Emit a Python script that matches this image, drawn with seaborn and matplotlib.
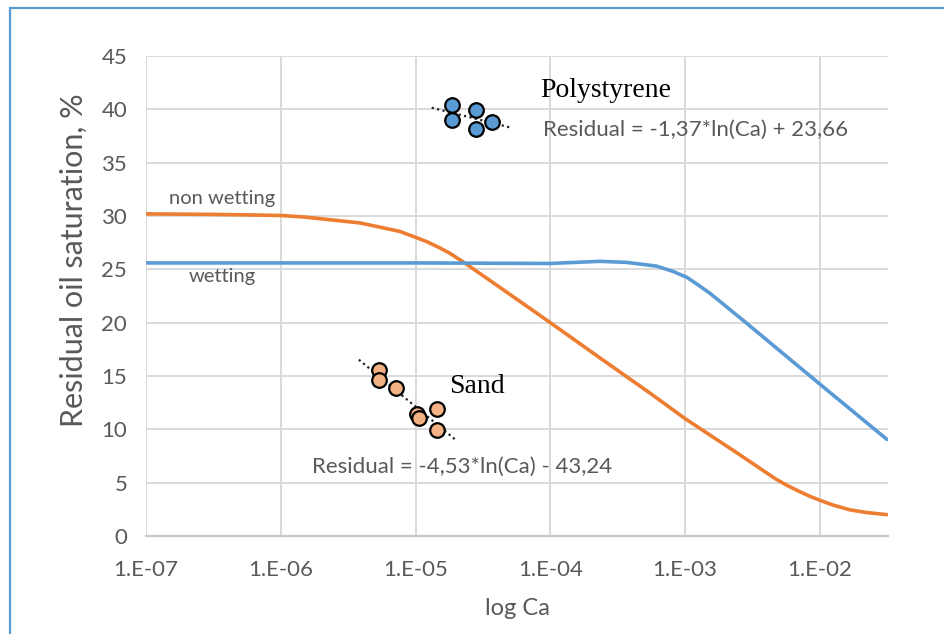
import numpy as np
import pandas as pd
import seaborn as sns
import matplotlib.pyplot as plt
from matplotlib.lines import Line2D
from matplotlib.ticker import FixedLocator, NullLocator

# curves (Ca, residual oil saturation %)
ca_nonwet = [1e-7, 3.14e-7, 5.92e-7, 1e-6, 1.51e-6, 2.32e-6, 3.87e-6, 7.66e-6, 1e-5,
             1.21e-5, 1.52e-5, 1.80e-5, 2.25e-5, 3.01e-5, 4.23e-5, 1e-4, 2.33e-4,
             5.48e-4, 1e-3, 2.42e-3, 4.63e-3, 5.69e-3, 7.11e-3, 8.5e-3, 1e-2,
             1.25e-2, 1.67e-2, 2.22e-2, 3.14e-2]
sor_nonwet = [30.2, 30.15, 30.1, 30.05, 29.9, 29.65, 29.35, 28.55, 28.0,
              27.6, 27.0, 26.5, 25.7, 24.6, 23.3, 20.0, 16.7,
              13.4, 11.0, 7.8, 5.4, 4.75, 4.15, 3.7, 3.35,
              2.9, 2.45, 2.2, 2.0]

ca_wet = [1e-7, 1e-6, 1e-5, 1e-4, 2.33e-4, 3.68e-4, 6.14e-4, 8.16e-4, 1.03e-3,
          1.245e-3, 1.53e-3, 2.86e-3, 5.05e-3, 1.03e-2, 3.14e-2]
sor_wet = [25.6, 25.6, 25.6, 25.55, 25.75, 25.65, 25.3, 24.8, 24.25,
           23.55, 22.75, 19.95, 17.35, 14.1, 9.06]

# measured points
ca_poly = [1.86e-5, 1.86e-5, 2.81e-5, 2.81e-5, 3.69e-5]
sor_poly = [40.4, 39.0, 39.9, 38.2, 38.8]

ca_sand = [5.36e-6, 5.36e-6, 7.16e-6, 1.02e-5, 1.06e-5, 1.44e-5, 1.44e-5]
sor_sand = [15.6, 14.6, 13.9, 11.4, 11.1, 11.9, 9.9]

xticks = [1e-7, 1e-6, 1e-5, 1e-4, 1e-3, 1e-2]
xtick_labels = ["1.E-07", "1.E-06", "1.E-05", "1.E-04", "1.E-03", "1.E-02"]
yticks = [0, 5, 10, 15, 20, 25, 30, 35, 40, 45]

BLUE = "#5b9bd5"
ORANGE = "#ed7d31"
TXT = "#595959"

sns.set_style("white")
plt.rcParams["font.family"] = ["Lato", "DejaVu Sans"]

curves = pd.concat([
    pd.DataFrame({"ca": ca_nonwet, "sor": sor_nonwet, "kind": "non wetting"}),
    pd.DataFrame({"ca": ca_wet, "sor": sor_wet, "kind": "wetting"}),
])

fig = plt.figure(figsize=(9.44, 6.34), dpi=100)
ax = fig.add_axes([146 / 944, 98 / 634, 742 / 944, 480 / 634])
ax.set_xscale("log")

sns.lineplot(data=curves, x="ca", y="sor", hue="kind",
             palette={"non wetting": ORANGE, "wetting": BLUE},
             linewidth=2.6, legend=False, ax=ax, zorder=3)

# log trend lines through the point sets, stretched a bit past the data
for ca, sor in [(ca_poly, sor_poly), (ca_sand, sor_sand)]:
    lx = np.log(ca)
    a, b = np.polyfit(lx, sor, 1)
    pad = 0.15 * np.log(10)
    xs = np.linspace(lx.min() - pad, lx.max() + pad, 20)
    ax.plot(np.exp(xs), a * xs + b, ls=(0, (1, 1.5)), color="#222222", lw=1.6, zorder=4)

sns.scatterplot(x=ca_poly, y=sor_poly, color=BLUE, s=110, edgecolor="black",
                linewidth=1.6, ax=ax, zorder=5)
sns.scatterplot(x=ca_sand, y=sor_sand, color="#f4b183", s=110, edgecolor="black",
                linewidth=1.6, ax=ax, zorder=5)

ax.set_xlim(1e-7, 3.2e-2)
ax.set_ylim(0, 45)
ax.xaxis.set_major_locator(FixedLocator(xticks))
ax.xaxis.set_minor_locator(NullLocator())
ax.set_xticklabels(xtick_labels)
ax.set_yticks(yticks)
ax.grid(True, color="#d9d9d9", linewidth=1.4)
ax.set_axisbelow(True)
for s in ["top", "right", "left"]:
    ax.spines[s].set_visible(False)
ax.spines["bottom"].set_color("#c8c8c8")
ax.spines["bottom"].set_linewidth(1.6)
ax.tick_params(length=0, labelsize=16, labelcolor=TXT)
ax.tick_params(axis="x", pad=17)
ax.tick_params(axis="y", pad=13.5)

ax.set_xlabel("log Ca", fontsize=17, color=TXT, labelpad=13)
ax.set_ylabel("Residual oil saturation, %", fontsize=22, color=TXT)
ax.yaxis.set_label_coords(-0.078, 0.575)

ax.text(3.66e-7, 31.6, "non wetting", fontsize=14.5, color=TXT, ha="center", va="center")
ax.text(3.66e-7, 24.3, "wetting", fontsize=14.5, color=TXT, ha="center", va="center")
ax.text(8.4e-5, 41.8, "Polystyrene", fontsize=20, family="Liberation Serif",
        color="black", ha="left", va="center")
ax.text(8.8e-5, 38.1, "Residual = -1,37*ln(Ca) + 23,66", fontsize=16, color=TXT,
        ha="left", va="center")
ax.text(1.77e-5, 14.0, "Sand", fontsize=20, family="Liberation Serif",
        color="black", ha="left", va="center")
ax.text(1.7e-6, 6.5, "Residual = -4,53*ln(Ca) - 43,24", fontsize=16, color=TXT,
        ha="left", va="center")

# chart frame, only its top and left edges fall inside the picture
fx, fy = 10 / 944, 1 - 8 / 634
fig.add_artist(Line2D([fx, 1], [fy, fy], transform=fig.transFigure,
                      color=BLUE, lw=1.6))
fig.add_artist(Line2D([fx, fx], [0, fy], transform=fig.transFigure,
                      color=BLUE, lw=1.6))

fig.savefig("out.png", dpi=100)
